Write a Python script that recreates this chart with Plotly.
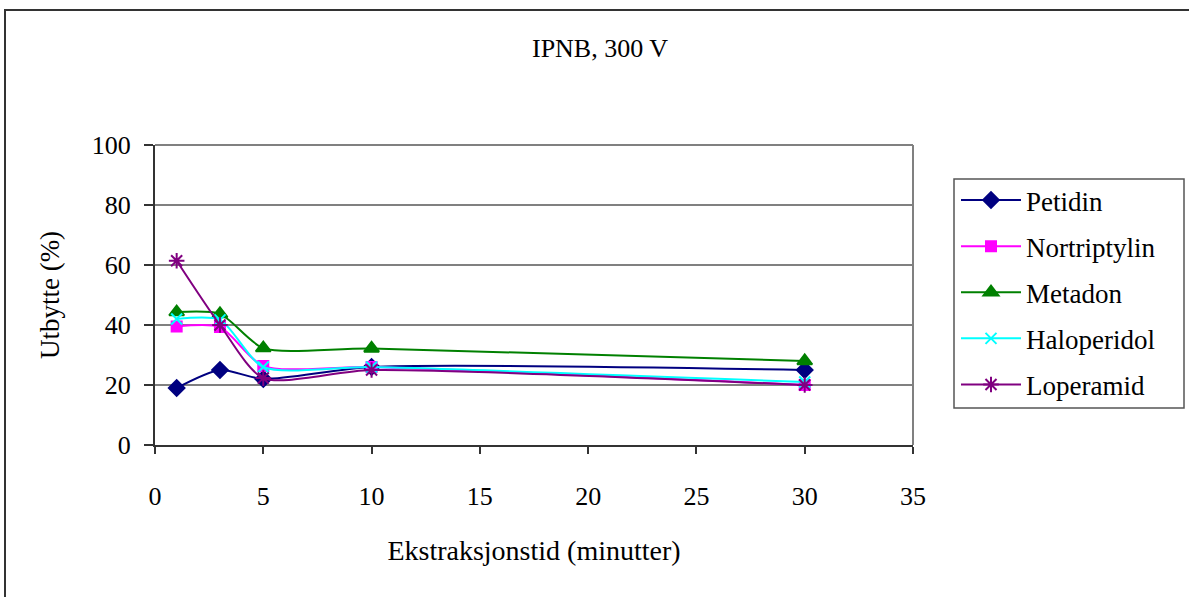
import plotly.graph_objects as go

minutes = [1, 3, 5, 10, 30]
petidin = [19, 25, 22, 26, 25]
nortriptylin = [39.5, 39.3, 26.3, 26, 20]
metadon = [44.3, 43.7, 32.3, 32.2, 28]
haloperidol = [42, 41.7, 26, 26, 21]
loperamid = [61.4, 40, 22.3, 25, 20]

series = [
    ("Petidin", petidin, "#000080", "diamond", 12),
    ("Nortriptylin", nortriptylin, "#FF00FF", "square", 10),
    ("Metadon", metadon, "#008000", "triangle-up", 13),
    ("Haloperidol", haloperidol, "#00FFFF", "x-thin", 11),
    ("Loperamid", loperamid, "#800080", "asterisk", 13),
]

FONT = "Times New Roman"
W, H = 1189, 597
L, R, T, B = 155, 913, 145, 445

fig = go.Figure()
for name, vals, color, sym, size in series:
    fig.add_trace(go.Scatter(
        x=minutes, y=vals, name=name, mode="lines+markers",
        line=dict(color=color, width=2, shape="spline", smoothing=0.7),
        marker=dict(symbol=sym, size=size, color=color,
                    line=dict(color=color, width=2)),
        legendgroup=name,
    ))

pw, ph = R - L, B - T
def px(x):
    return (x - L) / pw
def py(y):
    return (B - y) / ph

# outer chart frame
fig.add_shape(type="rect", xref="paper", yref="paper",
              x0=px(5), x1=px(1200), y0=py(10), y1=py(610),
              line=dict(color="#333333", width=2), fillcolor="rgba(0,0,0,0)", layer="below")
# legend frame
fig.add_shape(type="rect", xref="paper", yref="paper",
              x0=px(954), x1=px(1184), y0=py(179), y1=py(408),
              line=dict(color="#555555", width=1.5), fillcolor="rgba(0,0,0,0)", layer="above")

fig.update_layout(
    width=W, height=H,
    margin=dict(l=L, r=W - R, t=T, b=H - B),
    paper_bgcolor="white", plot_bgcolor="white",
    font=dict(family=FONT, size=26, color="black"),
    title=dict(text="IPNB, 300 V", x=px(600), xanchor="center", xref="paper",
               y=1 - 48 / H, yanchor="middle", font=dict(family=FONT, size=26)),
    xaxis=dict(range=[0, 35], dtick=5, tick0=0, showgrid=False,
               showline=True, linecolor="#333333", linewidth=2,
               ticks="outside", ticklen=7, tickcolor="#333333", tickwidth=1.5,
               ticklabelstandoff=20,
               tickfont=dict(family=FONT, size=26),
               title=dict(text="Ekstraksjonstid (minutter)", standoff=30,
                          font=dict(family=FONT, size=28)),
               zeroline=False, mirror=False),
    yaxis=dict(range=[0, 100], dtick=20, showgrid=True, gridcolor="#808080", gridwidth=1.5,
               showline=True, linecolor="#333333", linewidth=2,
               ticks="outside", ticklen=9, tickcolor="#333333", tickwidth=1.5,
               ticklabelstandoff=8,
               tickfont=dict(family=FONT, size=26),
               title=dict(text="Utbytte (%)", standoff=24,
                          font=dict(family=FONT, size=27)),
               zeroline=False),
    legend=dict(x=px(956), y=py(176), xanchor="left", yanchor="top",
                borderwidth=0, bgcolor="rgba(0,0,0,0)",
                font=dict(family=FONT, size=27), tracegroupgap=8, itemwidth=60,
                traceorder="grouped"),
    showlegend=True,
)
fig.add_shape(type="line", xref="paper", yref="paper", x0=0, x1=1, y0=1, y1=1,
              line=dict(color="#808080", width=2))
fig.add_shape(type="line", xref="paper", yref="paper", x0=1, x1=1, y0=0, y1=1,
              line=dict(color="#808080", width=2))

fig.write_html("out.html")
